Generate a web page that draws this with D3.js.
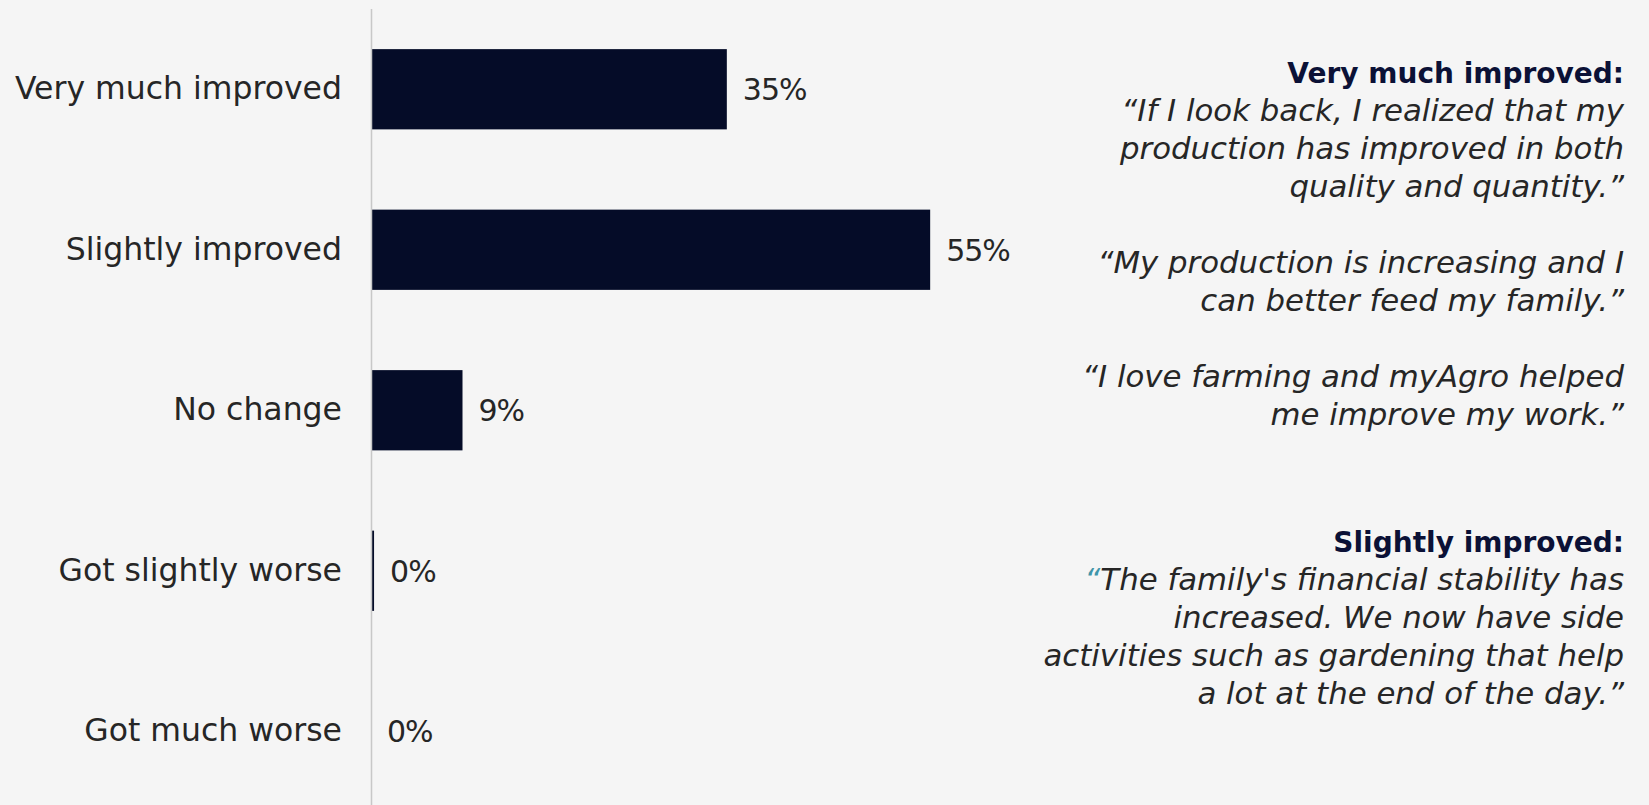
<!DOCTYPE html>
<html>
<head>
<meta charset="utf-8">
<script src="https://cdn.jsdelivr.net/npm/d3@7"></script>
<style>
body { margin: 0; background: #f5f5f5; }
svg { display: block; }
</style>
</head>
<body>
<script>
// survey answers, share of respondents in %
const categories = ["Very much improved", "Slightly improved", "No change", "Got slightly worse", "Got much worse"];
const shares = [35, 55, 9, 0.3, 0];

// quotes shown on the right
const quoteHeads = ["Very much improved:", "Slightly improved:"];
const quotesVeryMuch = [
	["“If I look back, I realized that my", "production has improved in both", "quality and quantity.”"],
	["“My production is increasing and I", "can better feed my family.”"],
	["“I love farming and myAgro helped", "me improve my work.”"]
];
const quotesSlightly = [
	["“The family's financial stability has", "increased. We now have side", "activities such as gardening that help", "a lot at the end of the day.”"]
];

const W = 1649, H = 805;
const font = "'DejaVu Sans', sans-serif";
const barColor = "#050c28";
const textColor = "#262626";

let svg = d3.select("body").append("svg")
	.attr("width", W)
	.attr("height", H)
	.style("background", "#f5f5f5");

let x = d3.scaleLinear().domain([0, 60]).range([371, 981]);
let y = d3.scaleBand().domain(categories).range([9, 811.5])
	.paddingInner(0.5).paddingOuter(0.25);

// bars
svg.append("g").selectAll("rect")
	.data(categories)
	.join("rect")
	.attr("x", x(0))
	.attr("y", d => y(d))
	.attr("width", (d, i) => x(shares[i]) - x(0))
	.attr("height", y.bandwidth())
	.attr("fill", barColor);

// category axis
let yAxis = svg.append("g")
	.attr("transform", "translate(" + x(0) + ",0)")
	.call(d3.axisLeft(y).tickSize(0).tickPadding(29));
yAxis.select(".domain")
	.attr("stroke", "#c8c8c8")
	.attr("stroke-width", 1.5)
	.attr("d", "M0.5," + 9 + "V" + H);
yAxis.selectAll(".tick text")
	.attr("font-family", font)
	.attr("font-size", 31.5)
	.attr("fill", textColor);

// value labels
let pct = d3.format(".0f");
svg.append("g").selectAll("text")
	.data(categories)
	.join("text")
	.attr("x", (d, i) => x(shares[i]) + 16)
	.attr("y", d => y(d) + y.bandwidth() / 2)
	.attr("dy", "0.36em")
	.attr("font-family", font)
	.attr("font-size", 30)
	.attr("letter-spacing", -1)
	.attr("fill", textColor)
	.text((d, i) => pct(shares[i]) + "%");

// quote blocks, right aligned
const lineH = 38;
const rightX = 1624;
function quoteBlock(head, paras, top, tealQuote) {
	let g = svg.append("g").attr("text-anchor", "end");
	g.append("text")
		.attr("x", rightX)
		.attr("y", top)
		.attr("font-family", font)
		.attr("font-weight", "bold")
		.attr("font-size", 28)
		.attr("fill", "#0b1136")
		.text(head);
	let yy = top;
	paras.forEach(function(lines, p) {
		if (p > 0) yy += lineH;
		lines.forEach(function(line, k) {
			yy += lineH;
			let t = g.append("text")
				.attr("x", rightX)
				.attr("y", yy)
				.attr("font-family", font)
				.attr("font-style", "italic")
				.attr("font-size", 30.8)
				.attr("fill", textColor);
			if (tealQuote && k == 0 && line[0] == "“") {
				t.append("tspan").attr("fill", "#3f95aa").text("“");
				t.append("tspan").text(line.slice(1));
			} else {
				t.text(line);
			}
		});
	});
}
quoteBlock(quoteHeads[0], quotesVeryMuch, 83, false);
quoteBlock(quoteHeads[1], quotesSlightly, 552, true);
</script>
</body>
</html>
